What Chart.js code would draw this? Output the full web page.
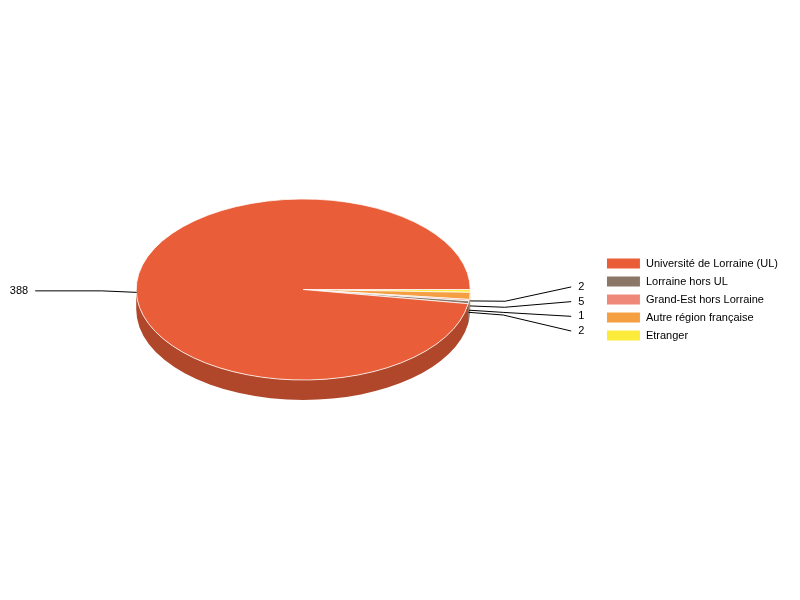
<!DOCTYPE html>
<html>
<head>
<meta charset="utf-8">
<script src="https://cdn.jsdelivr.net/npm/chart.js@4.4.0/dist/chart.umd.min.js"></script>
<style>
    html, body { margin: 0; padding: 0; background: #fff; }
    #zone { width: 800px; height: 600px; }
</style>
</head>
<body>
<div id="zone"><canvas id="origineChart"></canvas></div>
<script>
// Données du graphique (ordre de la légende)
const categories = ['Université de Lorraine (UL)', 'Lorraine hors UL', 'Grand-Est hors Lorraine', 'Autre région française', 'Etranger'];
const effectifs = [388, 2, 1, 5, 2];
const couleurs = ['#E95E38', '#8A7767', '#F0887A', '#F49F42', '#FDEB3C'];

const PROFONDEUR = 20;      // épaisseur du "camembert 3D"
const APLATISSEMENT = 0.542; // rapport hauteur / largeur de l'ellipse
const POLICE = '"Liberation Sans", Arial, sans-serif';

// Assombrir une couleur pour la face latérale
function assombrir(hex, f) {
    const n = parseInt(hex.slice(1), 16);
    const r = Math.round(((n >> 16) & 255) * f);
    const g = Math.round(((n >> 8) & 255) * f);
    const b = Math.round((n & 255) * f);
    return 'rgb(' + r + ',' + g + ',' + b + ')';
}

// Répartir les étiquettes d'un côté pour éviter les chevauchements
function repartir(liste, ecart) {
    liste.sort((a, b) => a.ey - b.ey);
    let groupes = liste.map(it => ({ items: [it], centre: it.ey }));
    let fusion = true;
    while (fusion) {
        fusion = false;
        for (let i = 0; i < groupes.length - 1; i++) {
            const g1 = groupes[i], g2 = groupes[i + 1];
            const bas1 = g1.centre + (g1.items.length - 1) * ecart / 2;
            const haut2 = g2.centre - (g2.items.length - 1) * ecart / 2;
            if (haut2 - bas1 < ecart) {
                const items = g1.items.concat(g2.items);
                const centre = items.reduce((s, it) => s + it.ey, 0) / items.length;
                groupes.splice(i, 2, { items: items, centre: centre });
                fusion = true;
                break;
            }
        }
    }
    groupes.forEach(g => g.items.forEach((it, j) => {
        it.ly = g.centre + (j - (g.items.length - 1) / 2) * ecart;
    }));
}

const camembert3d = {
    id: 'camembert3d',
    afterLayout(chart) {
        // la légende est un peu plus basse que le centre du camembert
        chart.legend.top += 10;
        chart.legend.bottom += 10;
    },
    beforeDatasetsDraw(chart) {
        const ctx = chart.ctx;
        const arcs = chart.getDatasetMeta(0).data;
        const cx = arcs[0].x, cy = arcs[0].y, r = arcs[0].outerRadius;
        const ry = r * APLATISSEMENT;
        const fonds = chart.data.datasets[0].backgroundColor;

        // face latérale (moitié avant seulement)
        arcs.forEach(function (arc, i) {
            const a1 = Math.max(arc.startAngle, 0);
            const a2 = Math.min(arc.endAngle, Math.PI);
            if (a2 <= a1) return;
            ctx.beginPath();
            ctx.ellipse(cx, cy, r, ry, 0, a1, a2);
            ctx.lineTo(cx + r * Math.cos(a2), cy + ry * Math.sin(a2) + PROFONDEUR);
            ctx.ellipse(cx, cy + PROFONDEUR, r, ry, 0, a2, a1, true);
            ctx.closePath();
            ctx.fillStyle = assombrir(fonds[i], 0.755);
            ctx.fill();
        });

        // dessus aplati
        ctx.save();
        ctx.translate(cx, cy);
        ctx.scale(1, APLATISSEMENT);
        ctx.translate(-cx, -cy);
    },
    afterDatasetsDraw(chart) {
        const ctx = chart.ctx;
        ctx.restore();

        const arcs = chart.getDatasetMeta(0).data;
        const valeurs = chart.data.datasets[0].data;
        const cx = arcs[0].x, cy = arcs[0].y, r = arcs[0].outerRadius;
        const k = APLATISSEMENT;

        const items = arcs.map(function (arc, i) {
            const m = (arc.startAngle + arc.endAngle) / 2;
            const c = Math.cos(m), s = Math.sin(m);
            return {
                valeur: valeurs[i],
                droite: c > 0,
                ax: cx + r * c,
                ay: cy + r * k * s + PROFONDEUR / 2,
                ex: cx + (r + 35) * c,
                ey: cy + (r + 35) * k * s + PROFONDEUR / 2
            };
        });
        repartir(items.filter(it => it.droite), 14.7);
        repartir(items.filter(it => !it.droite), 14.7);

        ctx.save();
        ctx.strokeStyle = '#000';
        ctx.lineWidth = 1;
        ctx.fillStyle = '#000';
        ctx.font = '11px ' + POLICE;
        ctx.textBaseline = 'middle';
        items.forEach(function (it) {
            const sens = it.droite ? 1 : -1;
            ctx.beginPath();
            ctx.moveTo(it.ax, it.ay);
            ctx.lineTo(it.ex, it.ey);
            ctx.lineTo(cx + sens * (r + 101), it.ly);
            ctx.stroke();
            ctx.textAlign = it.droite ? 'left' : 'right';
            ctx.fillText(String(it.valeur), cx + sens * (r + 108), it.ly);
        });
        ctx.restore();
    }
};

// Les parts tournent dans le sens inverse : on inverse l'ordre pour Chart.js
const ordre = categories.map((c, i) => i).reverse();

const ctx = document.getElementById('origineChart').getContext('2d');
const origineChart = new Chart(ctx, {
    type: 'pie',
    data: {
        labels: ordre.map(i => categories[i]),
        datasets: [{
            data: ordre.map(i => effectifs[i]),
            backgroundColor: ordre.map(i => couleurs[i]),
            borderColor: '#fff',
            borderWidth: 1,
            hoverOffset: 0,
            radius: 167,
            rotation: 90
        }]
    },
    options: {
        responsive: true,
        maintainAspectRatio: false,
        animation: false,
        events: [],
        layout: { padding: { left: 7, right: 12, top: 0, bottom: 21 } },
        plugins: {
            tooltip: { enabled: false },
            legend: {
                position: 'right',
                reverse: true,
                labels: {
                    boxWidth: 34,
                    boxHeight: 11,
                    padding: 7,
                    color: '#000',
                    font: { family: POLICE, size: 11 }
                }
            }
        }
    },
    plugins: [camembert3d]
});
</script>
</body>
</html>
